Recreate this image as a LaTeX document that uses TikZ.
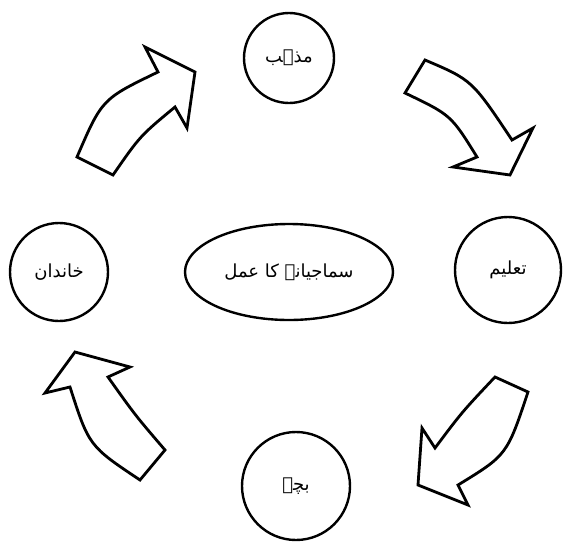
\documentclass[tikz,border=0pt]{standalone}
\usepackage{fontspec}
\usetikzlibrary{shapes.geometric}
\newfontfamily\urdu[Script=Arabic]{DejaVu Sans}
\TeXXeTstate=1
\newcommand{\ur}[1]{{\urdu\fontsize{18}{21}\selectfont\beginR #1\endR}}

\begin{document}
\begin{tikzpicture}[x=1pt,y=-1pt,
        stage/.style={draw,circle,line width=2.4pt,inner sep=0pt},
        bigarrow/.style={draw,line width=2.8pt,line join=miter,fill=white}]
    \useasboundingbox (0,0) rectangle (566,542);
    % the four stages and the middle
    \node[stage,minimum size=90pt] (faith) at (289,58) {\ur{مذہب}};
    \node[stage,minimum size=106pt] (school) at (508,270) {\ur{تعلیم}};
    \node[stage,minimum size=108pt] (child) at (296,486) {\ur{بچہ}};
    \node[stage,minimum size=98pt] (family) at (59,272) {\ur{خاندان}};
    \node[draw,ellipse,line width=2.4pt,minimum width=208pt,minimum height=96pt]
        (process) at (289,272) {\ur{سماجیانے کا عمل}};
    % block arrows round the cycle
    \draw[bigarrow] (77,157) .. controls (102,99) .. (158,72)
        -- (145,47) -- (195,72) -- (187,128) -- (175,107)
        .. controls (140,136) .. (113,175) -- cycle;
    \draw[bigarrow] (425,60) .. controls (472,80) .. (512,140)
        -- (533,128) -- (510,175) -- (453,167) -- (477,157)
        .. controls (451,115) .. (405,93) -- cycle;
    \draw[bigarrow] (528,392) .. controls (507,455) .. (458,485)
        -- (468,505) -- (418,485) -- (422,428) -- (435,448)
        .. controls (462,412) .. (495,377) -- cycle;
    \draw[bigarrow] (140,480) .. controls (89,446) .. (70,387)
        -- (45,393) -- (75,352) -- (130,367) -- (108,377)
        .. controls (135,415) .. (165,450) -- cycle;
\end{tikzpicture}
\end{document}
